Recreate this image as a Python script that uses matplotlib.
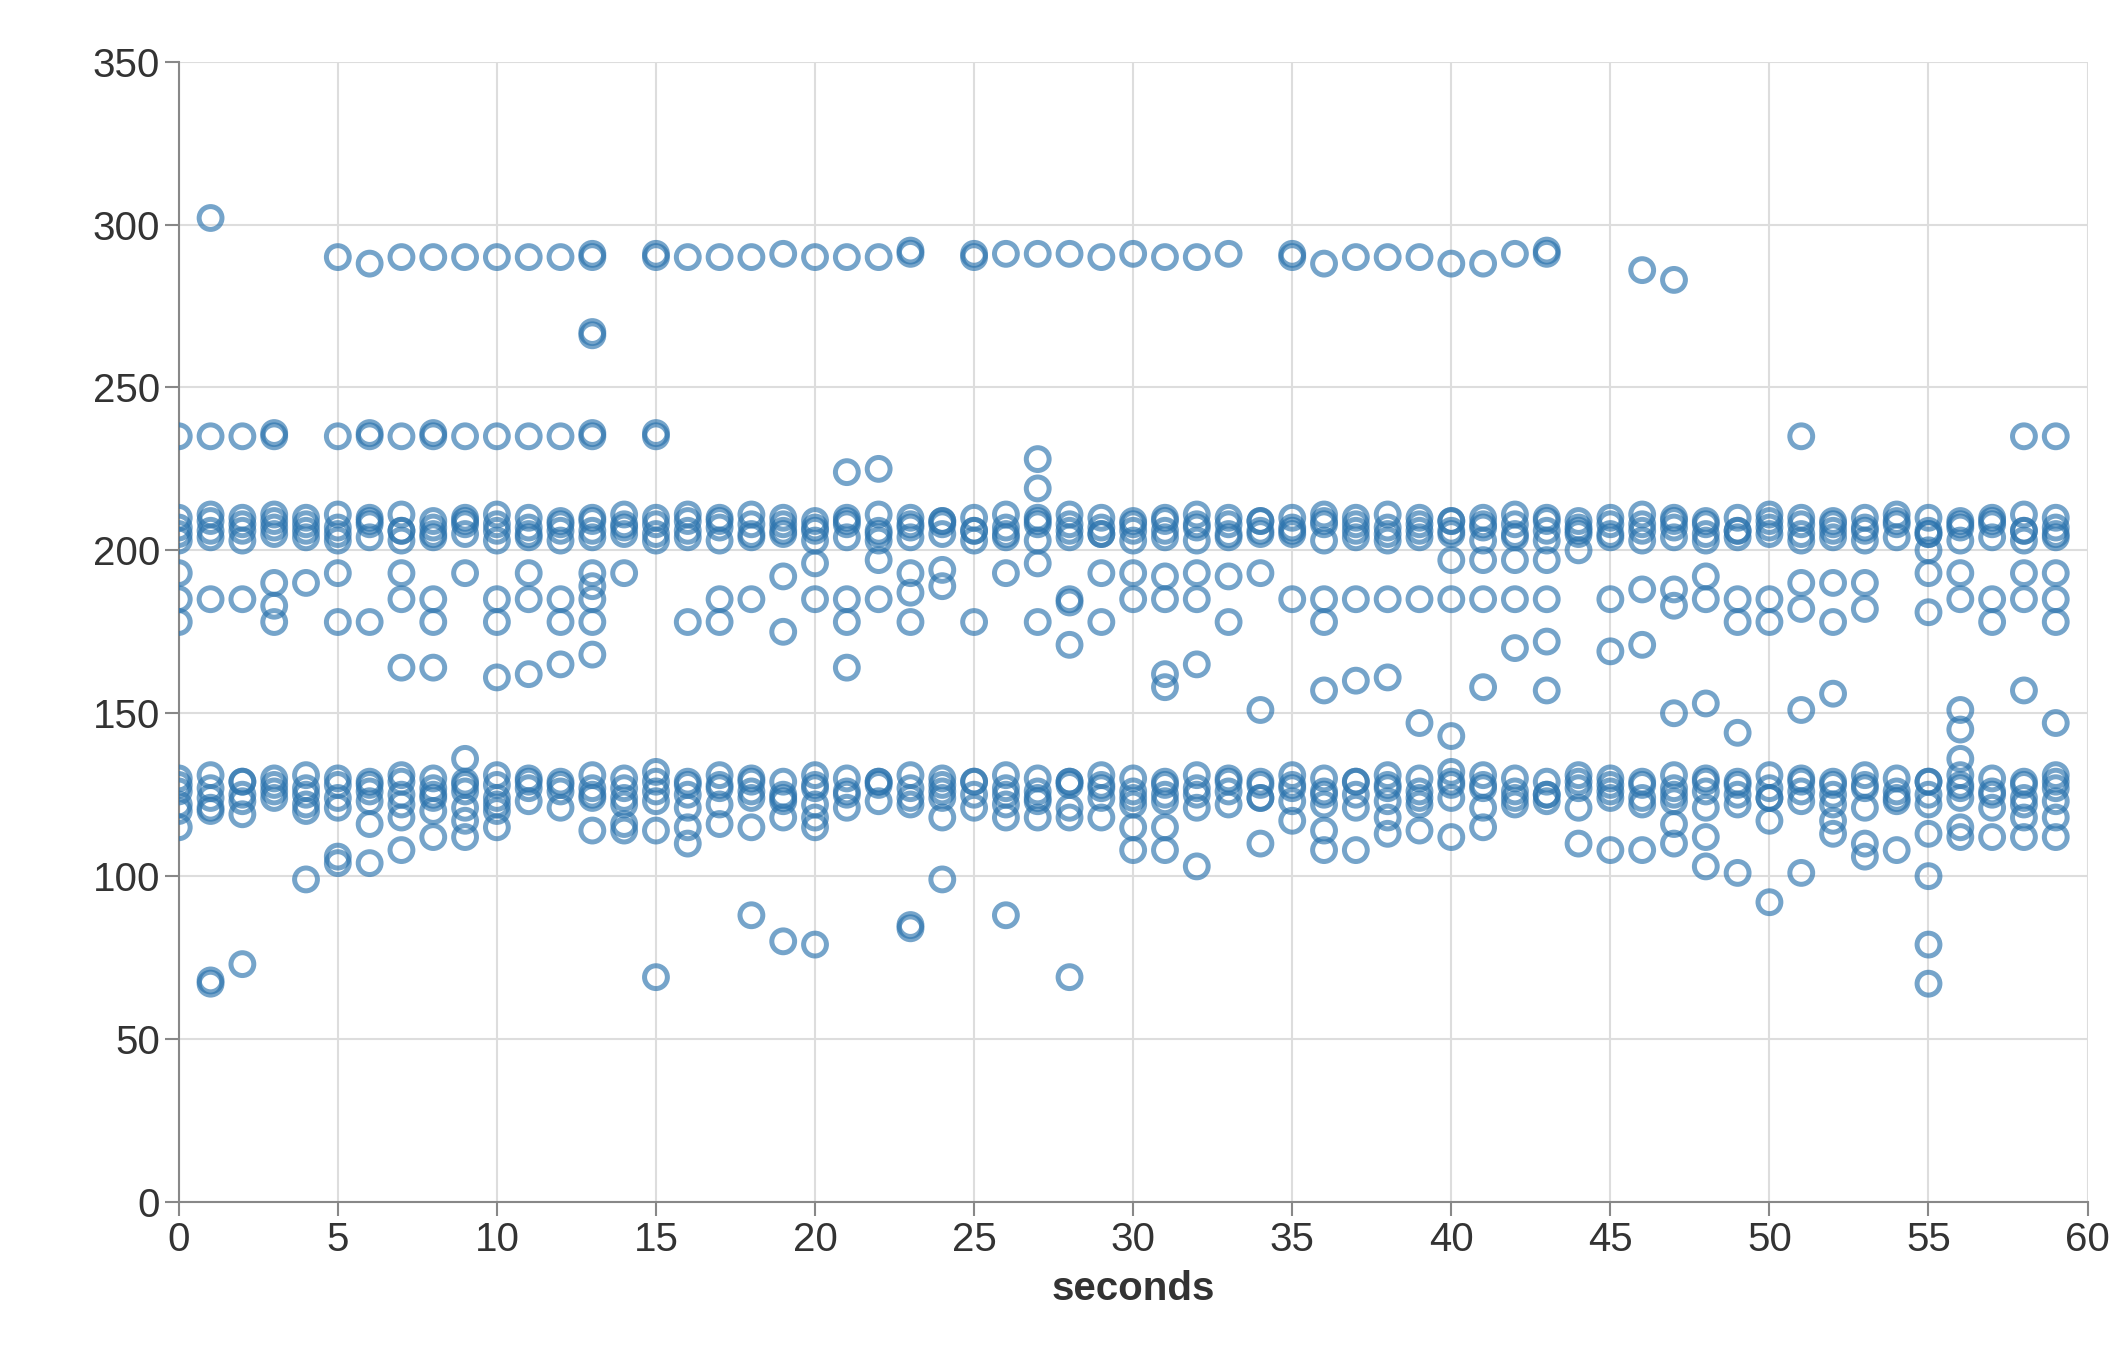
import matplotlib
matplotlib.use("Agg")
import matplotlib.pyplot as plt

plt.rcParams['font.family'] = ['Liberation Sans', 'DejaVu Sans']

secs = list(range(60))

# dense band around 200-211 (layers per second)
band_a = [203,204,203,205,204,203,204,203,204,205,203,204,203,204,205,203,204,203,204,205,203,204,203,204,205,203,204,203,204,205,203,204,203,204,205,205,203,204,203,204,205,203,204,203,205,204,203,204,203,204,205,203,204,203,204,205,203,204,203,204]
band_b = [207,206,208,207,206,207,208,206,207,208,206,207,208,206,207,208,206,207,208,206,207,208,206,207,208,206,207,208,206,207,208,206,207,208,206,207,208,206,207,208,206,207,208,206,207,208,206,207,208,206,207,208,206,207,208,206,207,208,206,207]
band_c = [210,211,210,209,210,211,210,211,209,210,211,210,209,210,211,210,209,210,211,210,209,210,211,210,209,210,211,210,211,210,209,210,211,210,209,210,211,210,211,210,209,210,211,210,209,210,211,210,209,210,211,210,209,210,211,210,209,210,211,210]
band_d = [205,209,206,211,208,205,209,206,205,209,208,205,206,209,208,205,211,209,205,208,206,209,205,208,209,206,205,209,208,205,206,209,208,205,209,206,209,208,205,206,209,208,205,209,206,205,208,209,205,206,209,205,208,206,209,205,208,209,206,205]
# dense band around 120-132
low_a = [122,121,123,124,122,121,123,122,124,121,122,123,121,124,122,123,121,122,124,123,122,121,123,122,124,121,122,123,121,124,122,123,121,122,124,123,122,121,123,122,124,121,122,123,121,124,122,123,121,122,124,123,122,121,123,122,124,121,122,123]
low_b = [126,127,125,126,127,128,126,125,127,126,128,127,126,125,127,126,128,127,126,125,127,126,128,127,126,125,127,126,128,127,126,125,127,126,128,127,126,125,127,126,128,127,126,125,127,126,128,127,126,125,127,126,128,127,126,125,127,126,128,127]
low_c = [130,131,129,130,131,130,129,131,130,129,131,130,129,131,130,132,129,131,130,129,131,130,129,131,130,129,131,130,129,131,130,129,131,130,129,131,130,129,131,130,132,131,130,129,131,130,129,131,130,129,131,130,129,131,130,129,131,130,129,131]
low_d = [128,124,129,128,125,124,128,129,125,128,124,129,128,127,124,129,125,128,129,124,128,125,129,124,128,129,125,124,129,128,124,128,125,129,124,128,125,129,128,124,129,128,124,125,129,128,124,125,129,128,124,129,125,128,124,129,128,125,124,129]

top_x = [1,5,6,7,8,9,10,11,12,13,13,15,15,16,17,18,19,20,21,22,23,23,25,25,26,27,28,29,30,31,32,33,35,35,36,37,38,39,40,41,42,43,43,46,47]
top_y = [302,290,288,290,290,290,290,290,290,290,291,290,291,290,290,290,291,290,290,290,291,292,290,291,291,291,291,290,291,290,290,291,290,291,288,290,290,290,288,288,291,291,292,286,283]

mid_x = [0,1,2,3,3,5,6,6,7,8,8,9,10,11,12,13,13,15,15,51,58,59,13,13,21,22,27,27]
mid_y = [235,235,235,235,236,235,235,236,235,235,236,235,235,235,235,235,236,235,236,235,235,235,266,267,224,225,228,219]

upper_x = [0,0,0,1,2,3,3,3,4,5,5,6,7,7,8,8,9,10,10,11,11,12,12,13,13,13,13,14,16,17,17,18,19,19,20,20,21,21,22,22,23,23,23,24,24,25,26,27,27,28,28,28,29,29,30,30,31,31,32,32,33,33,34,35,36,36,37,38,39,40,40,41,41,42,42,43,43,43,44,45,46,46,47,47,48,48,49,49,50,50,51,51,52,52,53,53,55,55,55,56,56,57,57,58,58,59,59,59]
upper_y = [193,185,178,185,185,190,183,178,190,193,178,178,193,185,185,178,193,185,178,193,185,185,178,193,189,185,178,193,178,185,178,185,192,175,196,185,185,178,197,185,193,187,178,194,189,178,193,196,178,185,184,171,193,178,193,185,192,185,193,185,192,178,193,185,185,178,185,185,185,185,197,185,197,185,197,185,197,172,200,185,188,171,188,183,192,185,185,178,185,178,190,182,190,178,190,182,200,193,181,193,185,185,178,193,185,193,185,178]

scatter_x = [7,8,10,11,12,13,21,31,31,32,34,36,37,38,39,40,41,42,43,45,47,48,49,51,52,56,56,56,58,59]
scatter_y = [164,164,161,162,165,168,164,158,162,165,151,157,160,161,147,143,158,170,157,169,150,153,144,151,156,151,145,136,157,147]

lower_x = [0,0,1,2,4,5,5,6,6,7,7,8,8,9,9,9,10,10,13,14,14,15,16,16,17,18,19,20,20,24,24,26,26,27,28,29,30,30,31,31,32,34,35,36,36,37,38,38,39,40,41,44,45,46,47,47,48,48,49,50,50,51,52,52,53,53,54,55,55,56,56,57,58,58,59,59]
lower_y = [115,120,120,119,120,106,104,104,116,108,118,112,120,117,112,136,115,120,114,114,116,114,115,110,116,115,118,115,118,118,99,118,88,118,118,118,108,115,108,115,103,110,117,108,114,108,113,118,114,112,115,110,108,108,110,116,103,112,101,92,117,101,113,117,106,110,108,100,113,112,115,112,112,118,112,118]

out_x = [1,1,2,4,15,18,19,20,23,23,28,55,55]
out_y = [67,68,73,99,69,88,80,79,84,85,69,79,67]

xs = secs * 8 + top_x + mid_x + upper_x + scatter_x + lower_x + out_x
ys = (band_a + band_b + band_c + band_d + low_a + low_b + low_c + low_d
      + top_y + mid_y + upper_y + scatter_y + lower_y + out_y)

fig = plt.figure(figsize=(21.28, 13.69), dpi=100)
ax = fig.add_axes([0.084, 0.122, 0.897, 0.833])
ax.scatter(xs, ys, s=270, facecolors='none', edgecolors='#2c74ae', linewidths=3.6, alpha=0.65, zorder=3)

ax.set_xlim(0, 60)
ax.set_ylim(0, 350)
ax.set_xticks(range(0, 61, 5))
ax.set_yticks(range(0, 351, 50))
ax.grid(True, color='#dddddd', linewidth=1.5)
ax.set_axisbelow(True)
for s in ['top', 'right']:
    ax.spines[s].set_visible(False)
for s in ['left', 'bottom']:
    ax.spines[s].set_color('#888888')
    ax.spines[s].set_linewidth(1.5)
ax.tick_params(labelsize=29, length=10, width=1.5, color='#888888', labelcolor='#333333')
ax.set_xlabel('seconds', fontsize=29, fontweight='bold', color='#333333', labelpad=8)

fig.savefig('out.png', dpi=100)
